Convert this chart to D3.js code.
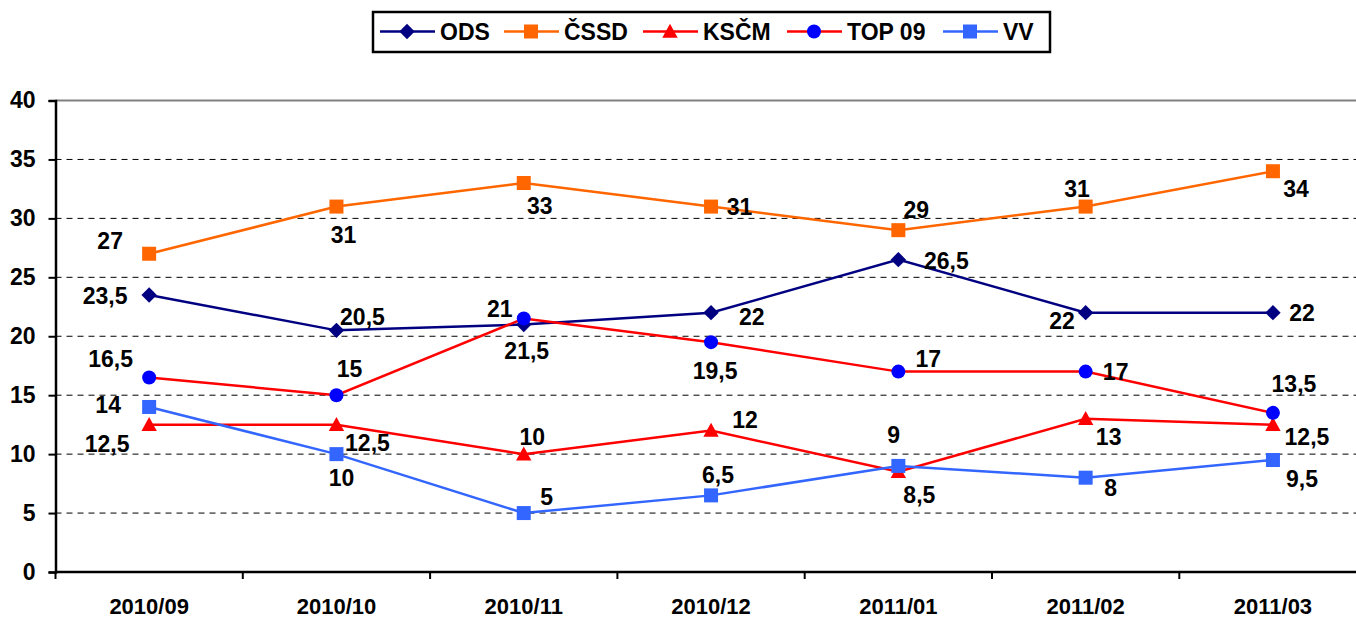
<!DOCTYPE html>
<html><head><meta charset="utf-8">
<script src="https://cdn.jsdelivr.net/npm/d3@7"></script>
<style>
html,body{margin:0;padding:0;background:#fff;}
svg text{font-family:"Liberation Sans",Arial,sans-serif;font-weight:bold;fill:#000;}
</style></head>
<body>
<svg id="chart" width="1356" height="619"></svg>
<script>
const categories = ["2010/09","2010/10","2010/11","2010/12","2011/01","2011/02","2011/03"];
const yTicks = [0,5,10,15,20,25,30,35,40];
const seriesNames = ["ODS","ČSSD","KSČM","TOP 09","VV"];
const odsValues   = [23.5, 20.5, 21, 22, 26.5, 22, 22];
const cssdValues  = [27, 31, 33, 31, 29, 31, 34];
const kscmValues  = [12.5, 12.5, 10, 12, 8.5, 13, 12.5];
const top09Values = [16.5, 15, 21.5, 19.5, 17, 17, 13.5];
const vvValues    = [14, 10, 5, 6.5, 9, 8, 9.5];

// styling & label placement (pixel offsets from each point)
const styles = [
  {line:"#000080", fill:"#000080", marker:"diamond"},
  {line:"#FF6600", fill:"#FF6600", marker:"square"},
  {line:"#FF0000", fill:"#FF0000", marker:"triangle"},
  {line:"#FF0000", fill:"#0000FF", marker:"circle"},
  {line:"#3366FF", fill:"#3366FF", marker:"square"}
];
const labelOffsets = [
  [[-44,1],[26,-13.5],[-24,-16],[40.7,4.3],[48,0.7],[-23.7,7.6],[29,0]],
  [[-39,-13],[7,28.5],[16,22.4],[28.5,0],[18,-20],[-8.7,-18],[23,17.5]],
  [[-42,19],[31,18.5],[8.5,-17.3],[34,-10.4],[21,23.3],[23,18],[34,12]],
  [[-38.5,-19],[13,-26],[3,31.7],[4,29],[30,-12.7],[30,0],[21,-29.4]],
  [[-41,-2],[5,24],[23,-16.3],[7,-21],[-4.6,-30.8],[25,10],[29,18.4]]
];
const allValues = [odsValues, cssdValues, kscmValues, top09Values, vvValues];
const fmt = v => String(v).replace(".", ",");

const svg = d3.select("#chart");
const x = d3.scaleBand().domain(categories).range([55.5, 1366.6]);
const y = d3.scaleLinear().domain([0,40]).range([572, 100.5]);
const cx = c => x(c) + x.bandwidth()/2;

// gridlines
svg.append("g").selectAll("line").data(yTicks.filter(t => t > 0)).join("line")
  .attr("x1", 55.5).attr("x2", 1356)
  .attr("y1", d => y(d)).attr("y2", d => y(d))
  .attr("stroke", d => d === 40 ? "#808080" : "#000")
  .attr("stroke-width", d => d === 40 ? 2 : 1)
  .attr("stroke-dasharray", d => d === 40 ? null : "6,5");

// y axis
const yAxis = svg.append("g").attr("transform","translate(55.5,0)")
  .call(d3.axisLeft(y).tickValues(yTicks).tickSize(7).tickPadding(13));
yAxis.select(".domain").attr("stroke","#000").attr("stroke-width",2.5);
yAxis.selectAll(".tick line").attr("stroke","#000").attr("stroke-width",2);
yAxis.selectAll("text").style("font-size","23px").attr("fill","#000");

// x axis
const xAxis = svg.append("g").attr("transform","translate(0,572)")
  .call(d3.axisBottom(x).tickSize(0).tickPadding(30));
xAxis.select(".domain").remove();
xAxis.selectAll("text").style("font-size","22px").attr("fill","#000").attr("dy","0.36em").attr("y", 34);
svg.append("line").attr("x1",55.5).attr("x2",1356).attr("y1",572).attr("y2",572)
  .attr("stroke","#000").attr("stroke-width",2.5);
svg.append("g").selectAll("line").data(categories).join("line")
  .attr("x1", d => x(d)).attr("x2", d => x(d)).attr("y1",572).attr("y2",579)
  .attr("stroke","#000").attr("stroke-width",2);

function drawMarker(g, type, color, size) {
  const s = size;
  if (type === "diamond") {
    g.append("path").attr("d", `M0,${-s*0.55}L${s*0.55},0L0,${s*0.55}L${-s*0.55},0Z`).attr("fill", color);
  } else if (type === "square") {
    g.append("rect").attr("x",-s/2).attr("y",-s/2).attr("width",s).attr("height",s).attr("fill",color);
  } else if (type === "triangle") {
    g.append("path").attr("d", `M0,${-s*0.55}L${s*0.55},${s*0.45}L${-s*0.55},${s*0.45}Z`).attr("fill", color);
  } else {
    g.append("circle").attr("r", s/2).attr("fill", color);
  }
}

const line = d3.line().x((d,i) => cx(categories[i])).y(d => y(d));
allValues.forEach((vals, si) => {
  const st = styles[si];
  const g = svg.append("g");
  g.append("path").datum(vals).attr("d", line).attr("fill","none")
    .attr("stroke", st.line).attr("stroke-width", 2.5);
  vals.forEach((v, i) => {
    const m = g.append("g").attr("transform", `translate(${cx(categories[i])},${y(v)})`);
    drawMarker(m, st.marker, st.fill, 14);
  });
});
// labels on top
allValues.forEach((vals, si) => {
  vals.forEach((v, i) => {
    const o = labelOffsets[si][i];
    svg.append("text").attr("x", cx(categories[i]) + o[0]).attr("y", y(v) + o[1])
      .attr("text-anchor","middle").attr("dy","0.36em").style("font-size","23px").text(fmt(v));
  });
});

// legend
const lg = svg.append("g");
lg.append("rect").attr("x",373).attr("y",12).attr("width",677).attr("height",40)
  .attr("fill","#fff").attr("stroke","#000").attr("stroke-width",2.5);
const legendX = [380, 504, 643, 787, 943];
seriesNames.forEach((name, si) => {
  const st = styles[si];
  const lx = legendX[si];
  lg.append("line").attr("x1", lx).attr("x2", lx+55).attr("y1", 31.5).attr("y2", 31.5)
    .attr("stroke", st.line).attr("stroke-width", 2.5);
  const m = lg.append("g").attr("transform", `translate(${lx+27},31.5)`);
  drawMarker(m, st.marker, st.fill, 14);
  lg.append("text").attr("x", lx+60).attr("y", 31.5).attr("dy","0.36em")
    .style("font-size","23px").text(name);
});
</script>
</body></html>
